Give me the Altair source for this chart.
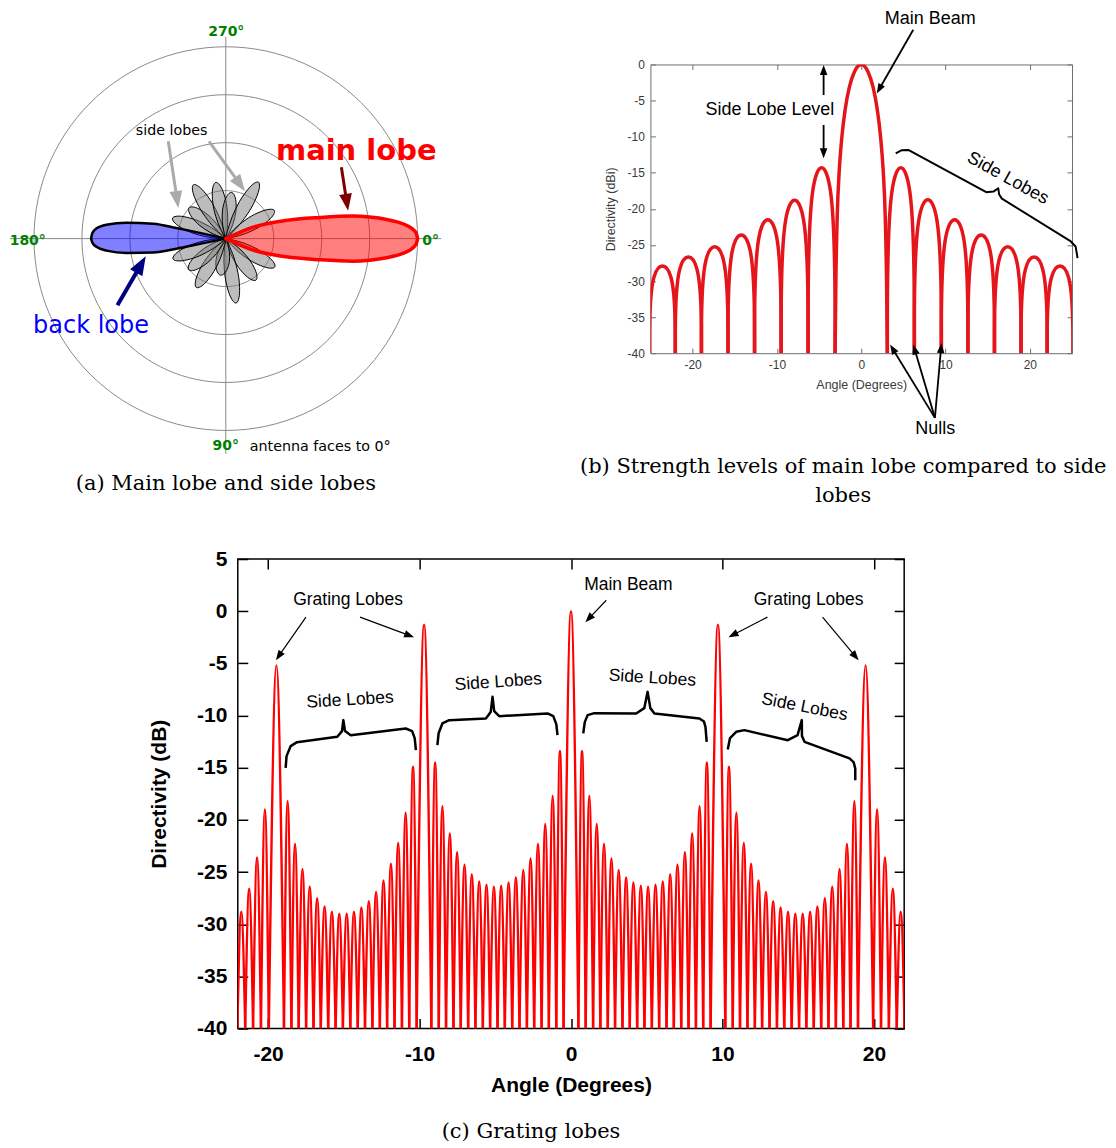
import math
import pandas as pd
import altair as alt

# ------------------------------------------------------------------
# (a) polar radiation pattern  (radius unit = one grid ring)
# ------------------------------------------------------------------
grid_radii = [1, 2, 3, 4]
petal_dir_deg = [30, 54, 81, 98, 121, 140, 159, 201, 220, 239, 260, 277, 300, 330]
petal_len = [1.18, 1.07, 1.36, 0.77, 1.19, 1.01, 1.18, 1.19, 1.00, 1.31, 1.19, 0.97, 1.36, 1.17]
main_lobe_x = [0, 0.57, 1.26, 1.96, 2.65, 3.0, 3.35, 3.69, 3.88, 3.97, 4.0]
main_lobe_hi = [0, 0.24, 0.38, 0.44, 0.47, 0.45, 0.40, 0.31, 0.21, 0.11, 0]
main_lobe_lo = [0, -0.24, -0.38, -0.44, -0.47, -0.45, -0.40, -0.31, -0.21, -0.11, 0]
back_lobe_x = [0, -0.54, -1.03, -1.51, -2.07, -2.49, -2.70, -2.78, -2.81]
back_lobe_hi = [0, 0.12, 0.22, 0.31, 0.33, 0.29, 0.21, 0.12, 0]
back_lobe_lo = [0, -0.11, -0.21, -0.29, -0.30, -0.25, -0.17, -0.09, 0]

# ------------------------------------------------------------------
# (b) uniform array pattern, -25..25 deg
# ------------------------------------------------------------------
b_null_deg = [-25.1, -22.05, -18.95, -15.8, -12.65, -9.5, -6.3, -3.1,
              3.1, 6.3, 9.5, 12.65, 15.8, 18.95, 22.05, 25.1]
b_left_lobe_db = [-27.4, -26.1, -24.6, -22.9, -20.7, -17.9, -13.2]
b_right_lobe_db = [-13.2, -17.8, -20.7, -22.9, -24.6, -26.1, -27.4]
b_main_deg = [-3.1, -3.0, -2.85, -2.6, -2.3, -1.9, -1.4, -0.8, 0,
              0.8, 1.4, 1.9, 2.3, 2.6, 2.85, 3.0, 3.1]
b_main_db = [-40, -29.6, -21.2, -14.6, -10.1, -6.2, -3.1, -1.0, 0,
             -1.0, -3.1, -6.2, -10.1, -14.6, -21.2, -29.6, -40]
b_x_ticks = [-20, -10, 0, 10, 20]
b_y_ticks = [0, -5, -10, -15, -20, -25, -30, -35, -40]

# ------------------------------------------------------------------
# (c) array with grating lobes, -22..22 deg
# ------------------------------------------------------------------
c_null_deg = [
    -22.55, -22.03, -21.51, -20.99, -20.47, -19.95,
    -18.95, -18.46, -17.98, -17.49, -17.00, -16.52, -16.03, -15.54, -15.06, -14.57,
    -14.08, -13.60, -13.11, -12.62, -12.14, -11.65, -11.16, -10.68, -10.19,
    -9.22, -8.73, -8.25, -7.76, -7.28, -6.79, -6.31, -5.82, -5.34, -4.85,
    -4.37, -3.88, -3.40, -2.91, -2.43, -1.94, -1.46, -0.97, -0.49,
    0.49, 0.97, 1.46, 1.94, 2.43, 2.91, 3.40, 3.88, 4.37, 4.85,
    5.34, 5.82, 6.31, 6.79, 7.28, 7.76, 8.25, 8.73, 9.22,
    10.19, 10.68, 11.16, 11.65, 12.14, 12.62, 13.11, 13.60, 14.08, 14.57,
    15.06, 15.54, 16.03, 16.52, 17.00, 17.49, 17.98, 18.46, 18.95,
    19.95, 20.47, 20.99, 21.51, 22.03, 22.55]
c_peak_deg = [
    -22.29, -21.77, -21.25, -20.73, -20.21,
    -19.45,
    -18.71, -18.22, -17.73, -17.25, -16.76, -16.27, -15.79, -15.30, -14.81,
    -14.33, -13.84, -13.35, -12.87, -12.38, -11.89, -11.41, -10.92, -10.43,
    -9.70,
    -8.97, -8.49, -8.00, -7.52, -7.03, -6.55, -6.06, -5.58, -5.09,
    -4.61, -4.12, -3.64, -3.15, -2.67, -2.18, -1.70, -1.21, -0.73,
    0.00,
    0.73, 1.21, 1.70, 2.18, 2.67, 3.15, 3.64, 4.12, 4.61,
    5.09, 5.58, 6.06, 6.55, 7.03, 7.52, 8.00, 8.49, 8.97,
    9.70,
    10.43, 10.92, 11.41, 11.89, 12.38, 12.87, 13.35, 13.84, 14.33,
    14.81, 15.30, 15.79, 16.27, 16.76, 17.25, 17.73, 18.22, 18.71,
    19.45,
    20.21, 20.73, 21.25, 21.77, 22.29]
c_peak_db = [
    -30.5, -28.8, -26.6, -23.6, -19.0,
    -5.2,
    -18.2, -22.3, -24.7, -26.4, -27.5, -28.3, -28.8, -29.0, -29.0,
    -28.8, -28.4, -27.8, -26.9, -25.8, -24.2, -22.2, -19.3, -14.9,
    -1.3,
    -14.5, -18.7, -21.3, -23.1, -24.3, -25.2, -25.9, -26.2, -26.4,
    -26.3, -26.0, -25.5, -24.8, -23.7, -22.3, -20.4, -17.7, -13.4,
    0.0,
    -13.4, -17.7, -20.4, -22.3, -23.7, -24.8, -25.5, -26.0, -26.3,
    -26.4, -26.2, -25.9, -25.2, -24.3, -23.1, -21.3, -18.7, -14.5,
    -1.3,
    -14.9, -19.3, -22.2, -24.2, -25.8, -26.9, -27.8, -28.4, -28.8,
    -29.0, -29.0, -28.8, -28.3, -27.5, -26.4, -24.7, -22.3, -18.2,
    -5.2,
    -19.0, -23.6, -26.6, -28.8, -30.5]
c_x_ticks = [-20, -10, 0, 10, 20]
c_y_ticks = [5, 0, -5, -10, -15, -20, -25, -30, -35, -40]

FLOOR_DB = -40
HEAD = "M0,0L-0.75,2L0.75,2Z"   # arrow head, tip at origin


def enc(xf, yf, xs, ys, xaxis=None, yaxis=None):
    return {"x": alt.X(xf, type="quantitative", scale=xs, axis=xaxis),
            "y": alt.Y(yf, type="quantitative", scale=ys, axis=yaxis)}


def texts(rows, xs, ys, **mk):
    df = pd.DataFrame(rows, columns=["x", "y", "text", "ang"])
    return alt.Chart(df).mark_text(**mk).encode(
        **enc("x", "y", xs, ys), text="text:N",
        angle=alt.Angle("ang:Q", scale=None))


def arrows(rows, xs, ys, kx, ky, color, width, head):
    recs = []
    for (x1, y1, x2, y2) in rows:
        dxp, dyp = (x2 - x1) * kx, (y2 - y1) * ky
        L = math.hypot(dxp, dyp)
        f = max(0.0, (L - 0.6 * head) / L)
        recs.append(dict(x1=x1, y1=y1, xe=x1 + (x2 - x1) * f, ye=y1 + (y2 - y1) * f,
                         x2=x2, y2=y2,
                         ang=(math.degrees(math.atan2(dxp, dyp)) + 360) % 360))
    df = pd.DataFrame(recs)
    shaft = alt.Chart(df).mark_rule(color=color, strokeWidth=width).encode(
        **enc("x1", "y1", xs, ys), x2="xe:Q", y2="ye:Q")
    tip = alt.Chart(df).mark_point(shape=HEAD, filled=True, color=color, opacity=1,
                                   size=head * head, strokeWidth=0).encode(
        **enc("x2", "y2", xs, ys), angle=alt.Angle("ang:Q", scale=None))
    return [shaft, tip]


def braces(plists, xs, ys, **mk):
    rows = [dict(b=i, k=k, x=p[0], y=p[1]) for i, pts in enumerate(plists) for k, p in enumerate(pts)]
    return alt.Chart(pd.DataFrame(rows)).mark_line(**mk).encode(
        **enc("x", "y", xs, ys), detail="b:N", order="k:Q")


def spacer(w, h):
    return alt.Chart(pd.DataFrame({"v": [0]})).mark_point(opacity=0).encode(
        x=alt.X("v:Q", axis=None), y=alt.Y("v:Q", axis=None)).properties(width=w, height=h)


def caption(text, offset, dx):
    return alt.TitleParams(text=text, orient="bottom", anchor="middle", frame="group",
                           baseline="top", offset=offset, dx=dx, font="DejaVu Serif",
                           fontSize=21, fontWeight="normal", color="black", lineHeight=29)


# ========================== panel (a) ==============================
A_W, A_H, A_K = 440, 460, 48.0
a_xs = alt.Scale(domain=[-4.542, 4.625], nice=False, zero=False)
a_ys = alt.Scale(domain=[-4.806, 4.777], nice=False, zero=False)

circ_rows = []
for r in grid_radii:
    for k in range(0, 361, 3):
        t = math.radians(k)
        circ_rows.append(dict(r=r, k=k, x=r * math.cos(t), y=r * math.sin(t)))
a_circles = alt.Chart(pd.DataFrame(circ_rows)).mark_line(color="#8a8a8a", strokeWidth=1).encode(
    **enc("x", "y", a_xs, a_ys), detail="r:N", order="k:Q")
a_cross = alt.Chart(pd.DataFrame({"x": [-4.5, 0], "y": [0, -4.49], "x2": [4.49, 0], "y2": [0, 4.21]})
                    ).mark_rule(color="#8a8a8a", strokeWidth=1).encode(
    **enc("x", "y", a_xs, a_ys), x2="x2:Q", y2="y2:Q")

PETAL_A = [0, 0.15, 0.35, 0.6, 0.82, 0.95, 1.0, 0.95, 0.82, 0.6, 0.35, 0.15]
PETAL_B = [0, 0.06, 0.115, 0.14, 0.115, 0.065, 0, -0.065, -0.115, -0.14, -0.115, -0.06]
prow = []
for i, (d, L) in enumerate(zip(petal_dir_deg, petal_len)):
    t = math.radians(d)
    for k, (pa, pb) in enumerate(zip(PETAL_A, PETAL_B)):
        prow.append(dict(p=i, k=k, x=pa * L * math.cos(t) + pb * math.sin(t),
                         y=-pa * L * math.sin(t) + pb * math.cos(t)))
a_petals = alt.Chart(pd.DataFrame(prow)).mark_line(
    fill="#7a7a7a", fillOpacity=0.5, stroke="black", strokeWidth=1,
    interpolate="cardinal-closed").encode(**enc("x", "y", a_xs, a_ys), detail="p:N", order="k:Q")

a_back = alt.Chart(pd.DataFrame({"x": back_lobe_x, "hi": back_lobe_hi, "lo": back_lobe_lo})).mark_area(
    fill="#0000ff", fillOpacity=0.5, stroke="black", strokeWidth=2.5, interpolate="monotone",
    orient="vertical", strokeJoin="round").encode(**enc("x", "hi", a_xs, a_ys), y2="lo:Q")
a_main = alt.Chart(pd.DataFrame({"x": main_lobe_x, "hi": main_lobe_hi, "lo": main_lobe_lo})).mark_area(
    fill="#ff0000", fillOpacity=0.5, stroke="#ff0000", strokeWidth=3.5, interpolate="monotone",
    orient="vertical", strokeJoin="round").encode(**enc("x", "hi", a_xs, a_ys), y2="lo:Q")

a_layers = [a_circles, a_cross, a_petals, a_back, a_main]
a_layers += arrows([(-1.20, 2.03, -0.99, 0.64), (-0.35, 2.03, 0.40, 0.99)], a_xs, a_ys, A_K, A_K, "#aaaaaa", 3, 17)
a_layers += arrows([(2.41, 1.49, 2.55, 0.58)], a_xs, a_ys, A_K, A_K, "#800000", 3, 17)
a_layers += arrows([(-2.26, -1.39, -1.67, -0.37)], a_xs, a_ys, A_K, A_K, "#000080", 4, 19)
a_layers += [
    texts([(0.01, 4.30, "270°", 0), (-4.13, -0.04, "180°", 0), (4.27, -0.04, "0°", 0), (0.0, -4.33, "90°", 0)],
          a_xs, a_ys, font="DejaVu Sans", fontSize=14, fontWeight="bold", color="#008000"),
    texts([(2.72, 1.82, "main lobe", 0)], a_xs, a_ys, font="DejaVu Sans", fontSize=29,
          fontWeight="bold", color="#ff0000"),
    texts([(-2.81, -1.83, "back lobe", 0)], a_xs, a_ys, font="DejaVu Sans", fontSize=24, color="#0000ff"),
    texts([(-1.13, 2.24, "side lobes", 0)], a_xs, a_ys, font="DejaVu Sans", fontSize=14.3, color="black"),
    texts([(0.5, -4.35, "antenna faces to 0°", 0)], a_xs, a_ys, font="DejaVu Sans", fontSize=14.3,
          color="black", align="left"),
]
panel_a = alt.layer(*a_layers).properties(
    width=A_W, height=A_H, title=caption("(a) Main lobe and side lobes", 4, -2))

# ========================== panel (b) ==============================
B_W, B_H = 422, 289
b_xs = alt.Scale(domain=[-25, 25], nice=False, zero=False)
b_ys = alt.Scale(domain=[-40, 0], nice=False, zero=False)
B_KX, B_KY = B_W / 50.0, B_H / 40.0
B_RED = "#e4161c"
GREY_TXT = "#3a3a3a"


def b_axis(orient, vals, title=None, labels=True, tpad=4):
    kw = dict(orient=orient, values=vals, tickSize=5, offset=-5, domain=False, grid=False,
              tickColor="#6e6e6e", tickWidth=1, labels=labels, labelFont="Liberation Sans",
              labelFontSize=12, labelColor=GREY_TXT, labelPadding=6, labelExpr="datum.value + ''",
              title=title, titleFont="Liberation Sans", titleFontSize=12.5, titleFontWeight="normal",
              titleColor=GREY_TXT, titlePadding=tpad)
    return alt.Axis(**kw)


brows = []
lobes = [(b_null_deg[i], b_null_deg[i + 1], b_left_lobe_db[i]) for i in range(7)]
lobes += [(b_null_deg[8 + j], b_null_deg[9 + j], b_right_lobe_db[j]) for j in range(7)]
for i, (nl, nr, lv) in enumerate(lobes):
    for k, (a, v) in enumerate([(nl, FLOOR_DB), (nl, lv), (nr, lv), (nr, FLOOR_DB)]):
        brows.append(dict(lobe=i, k=k, ang=a, db=v))
b_side = alt.Chart(pd.DataFrame(brows)).mark_line(
    color=B_RED, strokeWidth=3.5, interpolate="basis", clip=True).encode(
    **enc("ang", "db", b_xs, b_ys,
          b_axis("bottom", b_x_ticks, "Angle (Degrees)", tpad=8),
          b_axis("left", b_y_ticks, "Directivity (dBi)", tpad=10)),
    detail="lobe:N", order="k:Q")
b_mainlobe = alt.Chart(pd.DataFrame({"ang": b_main_deg, "db": b_main_db})).mark_line(
    color=B_RED, strokeWidth=3.5, interpolate="monotone", clip=True).encode(
    **enc("ang", "db", b_xs, b_ys, b_axis("top", b_x_ticks, labels=False),
          b_axis("right", b_y_ticks, labels=False)))

b_layers = [b_side, b_mainlobe]
b_layers += arrows([(6.17, 4.80, 1.84, -4.01), (-4.46, -4.23, -4.46, -0.08), (-4.46, -8.38, -4.46, -13.0),
                    (8.74, -48.96, 3.42, -38.81), (8.74, -48.96, 6.17, -38.81), (8.74, -48.96, 9.52, -38.59)],
                   b_xs, b_ys, B_KX, B_KY, "black", 1.8, 10)
b_layers += [
    braces([[(4.09, -12.31), (4.76, -11.89), (5.58, -11.84), (14.83, -17.70), (15.68, -17.61),
             (16.25, -17.15), (16.36, -18.02), (16.68, -18.58), (24.86, -24.52), (25.42, -25.21),
             (25.66, -26.83)]], b_xs, b_ys, color="black", strokeWidth=2, strokeJoin="round"),
    texts([(8.18, 6.32, "Main Beam", 0), (-10.83, -6.27, "Side Lobe Level", 0),
           (8.77, -50.53, "Nulls", 0), (17.39, -15.8, "Side Lobes", 29)],
          b_xs, b_ys, font="Liberation Sans", fontSize=18, color="black"),
]
panel_b = alt.layer(*b_layers).resolve_axis(x="independent", y="independent").properties(
    width=B_W, height=B_H, view=alt.ViewBackground(stroke="#6e6e6e", strokeWidth=1),
    title=caption(["(b) Strength levels of main lobe compared to side", "lobes"], 18, -18))

# ========================== panel (c) ==============================
C_W, C_H = 667, 470
c_xs = alt.Scale(domain=[-22, 22], nice=False, zero=False)
c_ys = alt.Scale(domain=[-40, 5], nice=False, zero=False)
C_KX, C_KY = C_W / 44.0, C_H / 45.0


def c_axis(orient, vals, title=None, labels=True, tpad=10):
    return alt.Axis(orient=orient, values=vals, tickSize=10, offset=-10, domain=False, grid=False,
                    tickColor="black", tickWidth=1.5, labels=labels, labelFont="Liberation Sans",
                    labelFontSize=21, labelFontWeight="bold", labelColor="black",
                    labelPadding=15 if orient == "bottom" else 11,
                    labelExpr="datum.value + ''", title=title, titleFont="Liberation Sans",
                    titleFontSize=21, titleFontWeight="bold", titleColor="black", titlePadding=tpad)


crows = []
for i, (pk, lv) in enumerate(zip(c_peak_deg, c_peak_db)):
    for k, (a, v) in enumerate([(c_null_deg[i], FLOOR_DB), (pk, lv), (c_null_deg[i + 1], FLOOR_DB)]):
        crows.append(dict(lobe=i, k=k, ang=a, db=v))
c_curve = alt.Chart(pd.DataFrame(crows)).mark_line(
    color="#ff0000", strokeWidth=2.4, interpolate="natural", clip=True).encode(
    **enc("ang", "db", c_xs, c_ys, c_axis("bottom", c_x_ticks, "Angle (Degrees)", tpad=10),
          c_axis("left", c_y_ticks, "Directivity (dB)", tpad=27)),
    detail="lobe:N", order="k:Q")
c_frame_ticks = alt.Chart(pd.DataFrame({"ang": [0], "db": [FLOOR_DB]})).mark_point(opacity=0).encode(
    **enc("ang", "db", c_xs, c_ys, c_axis("top", c_x_ticks, labels=False),
          c_axis("right", c_y_ticks, labels=False)))

c_layers = [c_curve, c_frame_ticks]
c_layers += arrows([(-17.50, -0.57, -19.48, -4.69), (-13.93, -0.57, -10.36, -2.49),
                    (2.33, 1.05, 0.95, -1.05), (12.97, -0.57, 10.40, -2.49),
                    (16.61, -0.57, 18.99, -4.69)], c_xs, c_ys, C_KX, C_KY, "black", 1.2, 10)
c_layers += [
    braces([
        [(-18.84, -15.01), (-18.78, -13.89), (-18.51, -12.93), (-18.09, -12.55), (-15.43, -12.04),
         (-15.12, -11.49), (-15.03, -10.44), (-14.92, -11.49), (-14.54, -11.88), (-10.91, -11.24),
         (-10.49, -11.49), (-10.32, -12.16), (-10.24, -13.31)],
        [(-8.82, -12.84), (-8.74, -11.69), (-8.49, -10.76), (-8.04, -10.44), (-5.62, -10.28),
         (-5.30, -9.67), (-5.18, -8.21), (-5.07, -9.58), (-4.74, -10.06), (-1.55, -9.80),
         (-1.17, -10.06), (-0.97, -10.82), (-0.89, -11.88)],
        [(0.81, -11.71), (0.91, -10.63), (1.10, -9.96), (1.54, -9.77), (4.30, -9.80),
         (4.84, -9.29), (5.06, -7.73), (5.24, -9.29), (5.51, -9.80), (8.48, -10.28),
         (8.78, -10.58), (8.88, -11.08), (8.96, -12.52)],
        [(10.35, -13.25), (10.50, -12.16), (10.91, -11.56), (11.45, -11.40), (14.32, -12.36),
         (14.96, -11.88), (15.24, -10.44), (15.25, -11.97), (15.42, -12.52), (18.39, -14.11),
         (18.66, -14.46), (18.77, -15.07), (18.77, -16.19)],
    ], c_xs, c_ys, color="black", strokeWidth=2.5, strokeJoin="round"),
    texts([(-14.72, 1.05, "Grating Lobes", 0), (15.69, 1.05, "Grating Lobes", 0),
           (3.79, 2.49, "Main Beam", 0),
           (-14.59, -8.52, "Side Lobes", 356.5), (-4.80, -6.80, "Side Lobes", 356),
           (5.37, -6.42, "Side Lobes", 3.5), (15.42, -9.20, "Side Lobes", 11)],
          c_xs, c_ys, font="Liberation Sans", fontSize=17.5, color="black"),
]
panel_c = alt.layer(*c_layers).resolve_axis(x="independent", y="independent").properties(
    width=C_W, height=C_H, view=alt.ViewBackground(stroke="black", strokeWidth=1.5),
    title=caption("(c) Grating lobes", 26, -40))

# ========================== layout ==============================
row1 = alt.hconcat(panel_a, alt.vconcat(spacer(1, 55), panel_b, spacing=0, bounds="flush"),
                   spacing=203, bounds="flush")
row2 = alt.hconcat(spacer(230, 1), panel_c, spacing=0, bounds="flush")
chart = alt.vconcat(row1, row2, spacing=40, bounds="full").properties(
    padding=0, background="white").configure_view(strokeWidth=0)

chart.save("out.html", embed_options={"renderer": "svg", "actions": False})
